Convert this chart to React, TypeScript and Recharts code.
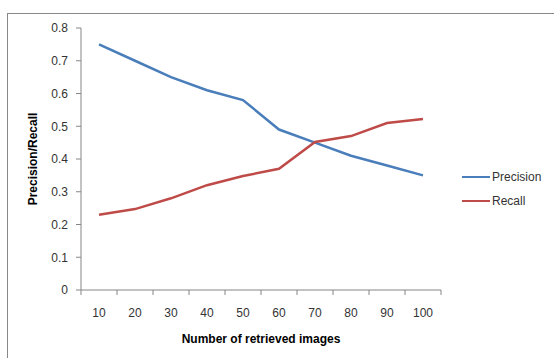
import React from "react"
import { LineChart, Line, XAxis, YAxis, Legend, Label } from "recharts"

const retrieved = ["10", "20", "30", "40", "50", "60", "70", "80", "90", "100"]
const precision = [0.75, 0.7, 0.65, 0.61, 0.58, 0.49, 0.45, 0.41, 0.38, 0.35]
const recall = [0.23, 0.247, 0.28, 0.32, 0.348, 0.37, 0.452, 0.47, 0.51, 0.522]
const yTicks = [0, 0.1, 0.2, 0.3, 0.4, 0.5, 0.6, 0.7, 0.8]

const FONT = "'Liberation Sans', Arial, sans-serif"
const AXIS = "#868686"
const TEXT = "#333"

const rows = retrieved.map((n, i) => ({ n, precision: precision[i], recall: recall[i] }))

// category label in the middle of its slot, tick marks on the slot edges
function CategoryTick(props: any) {
  const { x, y, payload, index, width, visibleTicksCount } = props
  const band = width / visibleTicksCount
  const left = x - band / 2
  return (
    <g>
      <line x1={left} x2={left} y1={y} y2={y + 5} stroke={AXIS} />
      {index === visibleTicksCount - 1 && (
        <line x1={x + band / 2} x2={x + band / 2} y1={y} y2={y + 5} stroke={AXIS} />
      )}
      <text x={x} y={y + 27} textAnchor="middle" fontSize={12} fill={TEXT} fontFamily={FONT}>
        {payload.value}
      </text>
    </g>
  )
}

function SeriesLegend({ payload }: any) {
  return (
    <div style={{ fontFamily: FONT, fontSize: 12, color: TEXT }}>
      {payload.map((p: any) => (
        <div key={p.value} style={{ display: "flex", alignItems: "center", height: 24 }}>
          <span style={{ width: 28, height: 0, borderTop: `2.5px solid ${p.color}`, marginRight: 2 }} />
          <span>{p.value}</span>
        </div>
      ))}
    </div>
  )
}

export default function App() {
  return (
    <div style={{ position: "fixed", left: 0, top: 0, width: 554, height: 358, background: "#fff", overflow: "hidden" }}>
      <div
        style={{
          position: "absolute",
          left: 7,
          top: 13,
          width: 700,
          height: 500,
          borderLeft: "1px solid #888",
          borderTop: "1px solid #888",
        }}
      />
      <LineChart
        width={554}
        height={358}
        data={rows}
        margin={{ top: 28, right: 23, bottom: 38, left: 0 }}
        style={{ position: "absolute", left: 0, top: 0 }}
      >
        <XAxis
          dataKey="n"
          scale="band"
          height={30}
          stroke={AXIS}
          tickLine={false}
          tickSize={0}
          tickMargin={0}
          tick={<CategoryTick />}
          interval={0}
        >
          <Label
            value="Number of retrieved images"
            position="bottom"
            offset={14}
            style={{ fontFamily: FONT, fontSize: 12, fontWeight: "bold", fill: "#000" }}
          />
        </XAxis>
        <YAxis
          width={81}
          domain={[0, 0.8]}
          ticks={yTicks}
          stroke={AXIS}
          tickSize={5}
          tickMargin={8}
          tick={{ fontFamily: FONT, fontSize: 12, fill: TEXT }}
        >
          <Label
            value="Precision/Recall"
            angle={-90}
            position="insideLeft"
            offset={33}
            style={{ textAnchor: "middle", fontFamily: FONT, fontSize: 12, fontWeight: "bold", fill: "#000" }}
          />
        </YAxis>
        <Line
          dataKey="precision"
          name="Precision"
          stroke="#4A7EBB"
          strokeWidth={2.5}
          dot={false}
          isAnimationActive={false}
        />
        <Line
          dataKey="recall"
          name="Recall"
          stroke="#BE4B48"
          strokeWidth={2.5}
          dot={false}
          isAnimationActive={false}
        />
        <Legend
          content={<SeriesLegend />}
          layout="vertical"
          align="right"
          verticalAlign="middle"
          wrapperStyle={{ position: "absolute", left: 462, top: 165, width: 90 }}
        />
      </LineChart>
    </div>
  )
}
